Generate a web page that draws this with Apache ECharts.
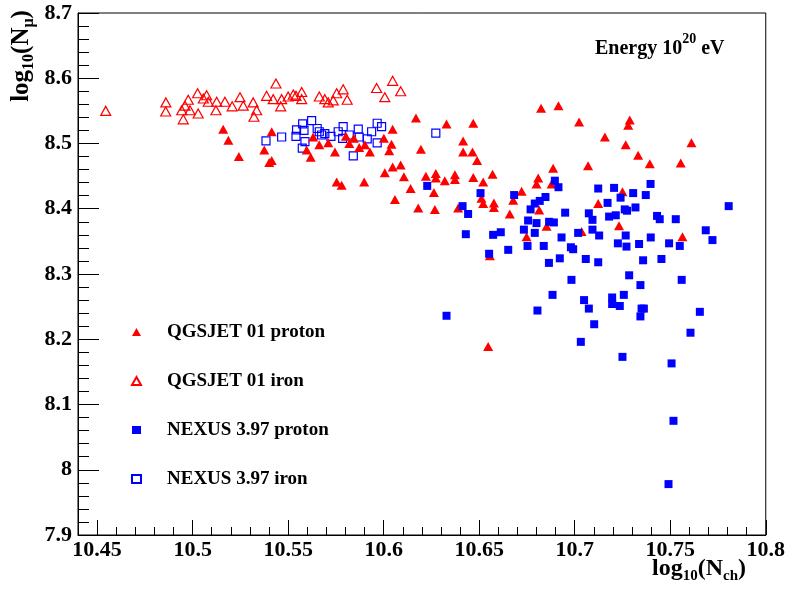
<!DOCTYPE html>
<html>
<head>
<meta charset="utf-8">
<script src="https://cdn.jsdelivr.net/npm/echarts@6/dist/echarts.min.js"></script>
<style>
html,body{margin:0;padding:0;background:#fff;}
#chart{width:788px;height:595px;}
</style>
</head>
<body>
<div id="chart"></div>
<script>
// ---------------- data ----------------
const seriesNames = ['QGSJET 01 proton', 'QGSJET 01 iron', 'NEXUS 3.97 proton', 'NEXUS 3.97 iron'];
const xTickLabels = [10.45, 10.5, 10.55, 10.6, 10.65, 10.7, 10.75, 10.8];
const yTickLabels = [7.9, 8, 8.1, 8.2, 8.3, 8.4, 8.5, 8.6, 8.7];

const qgsjetProton = [
  [10.5160,8.522],[10.5187,8.505],[10.5242,8.480],[10.5375,8.490],[10.5401,8.471],
  [10.5414,8.518],[10.5414,8.474],[10.5631,8.510],[10.5597,8.490],[10.5618,8.479],
  [10.5663,8.498],[10.5710,8.501],[10.5745,8.487],[10.5802,8.511],[10.5820,8.500],
  [10.5844,8.508],[10.5872,8.494],[10.5902,8.498],[10.5928,8.487],[10.6001,8.508],
  [10.6047,8.522],[10.6041,8.499],[10.6029,8.489],[10.6169,8.539],[10.6195,8.491],
  [10.6329,8.530],[10.6006,8.455],[10.6047,8.464],[10.6089,8.467],[10.6106,8.449],
  [10.6141,8.431],[10.5754,8.441],[10.5780,8.436],[10.5898,8.441],[10.6221,8.450],
  [10.6263,8.425],[10.6273,8.454],[10.6320,8.443],[10.6373,8.452],[10.6059,8.414],
  [10.6469,8.531],[10.6824,8.554],[10.6915,8.558],[10.7023,8.533],[10.6416,8.504],
  [10.6416,8.487],[10.6465,8.487],[10.6489,8.474],[10.6273,8.447],[10.6373,8.445],
  [10.6469,8.448],[10.6521,8.441],[10.6570,8.453],[10.6181,8.401],[10.6268,8.399],
  [10.6390,8.401],[10.6512,8.416],[10.6521,8.408],[10.6577,8.409],[10.6577,8.402],
  [10.6678,8.413],[10.6722,8.427],[10.6660,8.392],[10.6809,8.447],[10.6800,8.438],
  [10.6887,8.462],[10.6879,8.438],[10.6814,8.398],[10.6853,8.373],[10.6748,8.357],
  [10.7070,8.466],[10.7123,8.408],[10.7036,8.365],[10.7288,8.536],[10.7280,8.528],
  [10.7158,8.510],[10.7267,8.498],[10.7332,8.482],[10.7393,8.469],[10.7611,8.501],
  [10.7555,8.470],[10.7250,8.426],[10.7232,8.374],[10.7564,8.357],[10.6556,8.328],
  [10.6547,8.189]
];

const qgsjetIron = [
  [10.4545,8.550],[10.4860,8.563],[10.4859,8.549],[10.4951,8.537],[10.4943,8.551],
  [10.4960,8.558],[10.4977,8.567],[10.4986,8.551],[10.5026,8.577],[10.5029,8.546],
  [10.5056,8.569],[10.5073,8.574],[10.5082,8.564],[10.5126,8.564],[10.5122,8.551],
  [10.5169,8.564],[10.5207,8.557],[10.5248,8.571],[10.5265,8.558],[10.5317,8.563],
  [10.5335,8.551],[10.5321,8.541],[10.5387,8.573],[10.5436,8.592],[10.5422,8.568],
  [10.5461,8.557],[10.5466,8.568],[10.5500,8.572],[10.5527,8.575],[10.5541,8.573],
  [10.5571,8.579],[10.5571,8.568],[10.5663,8.572],[10.5692,8.568],[10.5710,8.563],
  [10.5736,8.566],[10.5754,8.577],[10.5788,8.583],[10.5809,8.567],[10.5963,8.585],
  [10.6006,8.571],[10.6047,8.596],[10.6089,8.580]
];

const nexusProton = [
  [10.6228,8.435],[10.6413,8.404],[10.6442,8.392],[10.6507,8.424],[10.6430,8.361],
  [10.6573,8.360],[10.6613,8.364],[10.6683,8.421],[10.6769,8.399],[10.6791,8.408],
  [10.6817,8.412],[10.6847,8.418],[10.6896,8.443],[10.6915,8.433],[10.6756,8.382],
  [10.6800,8.378],[10.6734,8.368],[10.6791,8.363],[10.6866,8.380],[10.6891,8.379],
  [10.6950,8.394],[10.6931,8.356],[10.7018,8.363],[10.7074,8.393],[10.7093,8.383],
  [10.7093,8.368],[10.7123,8.431],[10.7206,8.432],[10.7240,8.417],[10.7306,8.424],
  [10.7372,8.421],[10.7397,8.438],[10.7172,8.409],[10.7318,8.402],[10.7262,8.399],
  [10.7274,8.397],[10.7180,8.388],[10.7215,8.390],[10.7431,8.389],[10.7445,8.384],
  [10.7529,8.384],[10.7806,8.404],[10.7128,8.359],[10.7267,8.359],[10.7686,8.367],
  [10.7721,8.352],[10.7398,8.356],[10.6552,8.331],[10.6652,8.337],[10.6753,8.343],
  [10.6838,8.343],[10.6865,8.317],[10.6922,8.324],[10.6980,8.341],[10.6992,8.338],
  [10.7058,8.323],[10.7123,8.318],[10.6983,8.291],[10.6884,8.268],[10.7049,8.260],
  [10.7074,8.247],[10.6805,8.244],[10.7102,8.223],[10.7032,8.196],[10.6329,8.236],
  [10.7226,8.347],[10.7271,8.342],[10.7337,8.346],[10.7494,8.347],[10.7550,8.343],
  [10.7358,8.321],[10.7454,8.323],[10.7285,8.298],[10.7344,8.283],[10.7560,8.291],
  [10.7196,8.264],[10.7196,8.254],[10.7257,8.268],[10.7236,8.251],[10.7350,8.247],
  [10.7362,8.247],[10.7344,8.235],[10.7655,8.242],[10.7606,8.210],[10.7250,8.173],
  [10.7507,8.163],[10.7517,8.075],[10.7491,7.978]
];

const nexusIron = [
  [10.5384,8.504],[10.5466,8.510],[10.5544,8.521],[10.5541,8.511],[10.5576,8.530],
  [10.5583,8.520],[10.5588,8.503],[10.5574,8.493],[10.5623,8.535],[10.5652,8.523],
  [10.5663,8.518],[10.5675,8.513],[10.5692,8.515],[10.5724,8.511],[10.5762,8.518],
  [10.5788,8.526],[10.5785,8.508],[10.5820,8.513],[10.5867,8.522],[10.5872,8.510],
  [10.5841,8.481],[10.5914,8.507],[10.5937,8.518],[10.5966,8.531],[10.5989,8.526],
  [10.5966,8.501],[10.6273,8.516]
];

// ---------------- chart ----------------
const FONT = '"Liberation Serif", "Times New Roman", serif';
const RED = '#ff0000';
const BLUE = '#0000ff';
const chart = echarts.init(document.getElementById('chart'), null, {renderer: 'canvas'});

const xMin = 10.44, xMax = 10.8;
function fmtX(v) {
  if (v < 10.449) return '';
  return String(+(+v).toFixed(2));
}

const option = {
  backgroundColor: '#ffffff',
  animation: false,
  grid: {
    left: 78, right: 22, top: 13, bottom: 60,
    show: true, borderColor: '#000', borderWidth: 1, backgroundColor: 'transparent'
  },
  xAxis: [
    {
      type: 'value', min: xMin, max: xMax, interval: 0.01, position: 'bottom',
      axisLine: {show: true, onZero: false, lineStyle: {color: '#000', width: 1}},
      axisTick: {show: true, inside: true, length: 8, lineStyle: {color: '#000', width: 1}},
      axisLabel: {show: false},
      splitLine: {show: false}
    },
    {
      type: 'value', min: xMin, max: xMax, interval: 0.05, position: 'bottom',
      axisLine: {show: false, onZero: false},
      axisTick: {show: true, inside: true, length: 15, customValues: xTickLabels,
                 lineStyle: {color: '#000', width: 1}},
      axisLabel: {show: true, customValues: xTickLabels, formatter: fmtX, margin: 4,
                  color: '#000', fontFamily: FONT, fontWeight: 'bold', fontSize: 22},
      splitLine: {show: false}
    }
  ],
  yAxis: {
    type: 'value', min: 7.9, max: 8.7, interval: 0.1,
    axisLine: {show: true, onZero: false, lineStyle: {color: '#000', width: 1}},
    axisTick: {show: true, inside: true, length: 21, lineStyle: {color: '#000', width: 1}},
    minorTick: {show: true, splitNumber: 5, length: 11, lineStyle: {color: '#000', width: 1}},
    axisLabel: {show: true, margin: 6, color: '#000', fontFamily: FONT, fontWeight: 'bold', fontSize: 22,
                formatter: function (v) { return String(+(+v).toFixed(1)); }},
    splitLine: {show: false},
    minorSplitLine: {show: false}
  },
  legend: {
    data: seriesNames,
    orient: 'vertical',
    left: 126, top: 317,
    itemWidth: 9, itemHeight: 8,
    itemGap: 29,
    selectedMode: false,
    textStyle: {color: '#000', fontFamily: FONT, fontWeight: 'bold', fontSize: 19,
                lineHeight: 20, padding: [0, 0, 0, 21]}
  },
  graphic: [
    {
      type: 'text', left: 595, top: 32,
      style: {
        text: '{m|Energy 10}{s|20}{m| eV}',
        rich: {
          m: {fontFamily: FONT, fontWeight: 'bold', fontSize: 20, lineHeight: 27, verticalAlign: 'bottom', fill: '#000'},
          s: {fontFamily: FONT, fontWeight: 'bold', fontSize: 14, lineHeight: 14, verticalAlign: 'top', fill: '#000'}
        }
      }
    },
    {
      type: 'text', right: 42, top: 557,
      style: {
        text: '{m|log}{s|10}{m|(N}{s|ch}{m|)}',
        rich: {
          m: {fontFamily: FONT, fontWeight: 'bold', fontSize: 24, lineHeight: 27, verticalAlign: 'top', fill: '#000'},
          s: {fontFamily: FONT, fontWeight: 'bold', fontSize: 15, lineHeight: 15, verticalAlign: 'bottom', fill: '#000'}
        }
      }
    },
    {
      type: 'text', x: 23, y: 56, rotation: Math.PI / 2,
      style: {
        text: '{m|log}{s|10}{m|(N}{s|μ}{m|)}',
        align: 'center', verticalAlign: 'middle',
        rich: {
          m: {fontFamily: FONT, fontWeight: 'bold', fontSize: 25, lineHeight: 27, verticalAlign: 'top', fill: '#000'},
          s: {fontFamily: FONT, fontWeight: 'bold', fontSize: 16, lineHeight: 16, verticalAlign: 'bottom', fill: '#000'}
        }
      }
    }
  ],
  series: [
    {
      name: seriesNames[1], type: 'scatter', xAxisIndex: 0, data: qgsjetIron,
      symbol: 'triangle', symbolSize: [10, 9],
      itemStyle: {color: 'transparent', borderColor: RED, borderWidth: 1.2, opacity: 1},
      emphasis: {disabled: true}, z: 2
    },
    {
      name: seriesNames[3], type: 'scatter', xAxisIndex: 0, data: nexusIron,
      symbol: 'rect', symbolSize: 8,
      itemStyle: {color: 'transparent', borderColor: BLUE, borderWidth: 1.2, opacity: 1},
      emphasis: {disabled: true}, z: 3
    },
    {
      name: seriesNames[0], type: 'scatter', xAxisIndex: 0, data: qgsjetProton,
      symbol: 'triangle', symbolSize: [10, 9],
      itemStyle: {color: RED, opacity: 1},
      emphasis: {disabled: true}, z: 4
    },
    {
      name: seriesNames[2], type: 'scatter', xAxisIndex: 0, data: nexusProton,
      symbol: 'rect', symbolSize: 8,
      itemStyle: {color: BLUE, opacity: 1},
      emphasis: {disabled: true}, z: 5
    }
  ]
};
chart.setOption(option);
</script>
</body>
</html>
